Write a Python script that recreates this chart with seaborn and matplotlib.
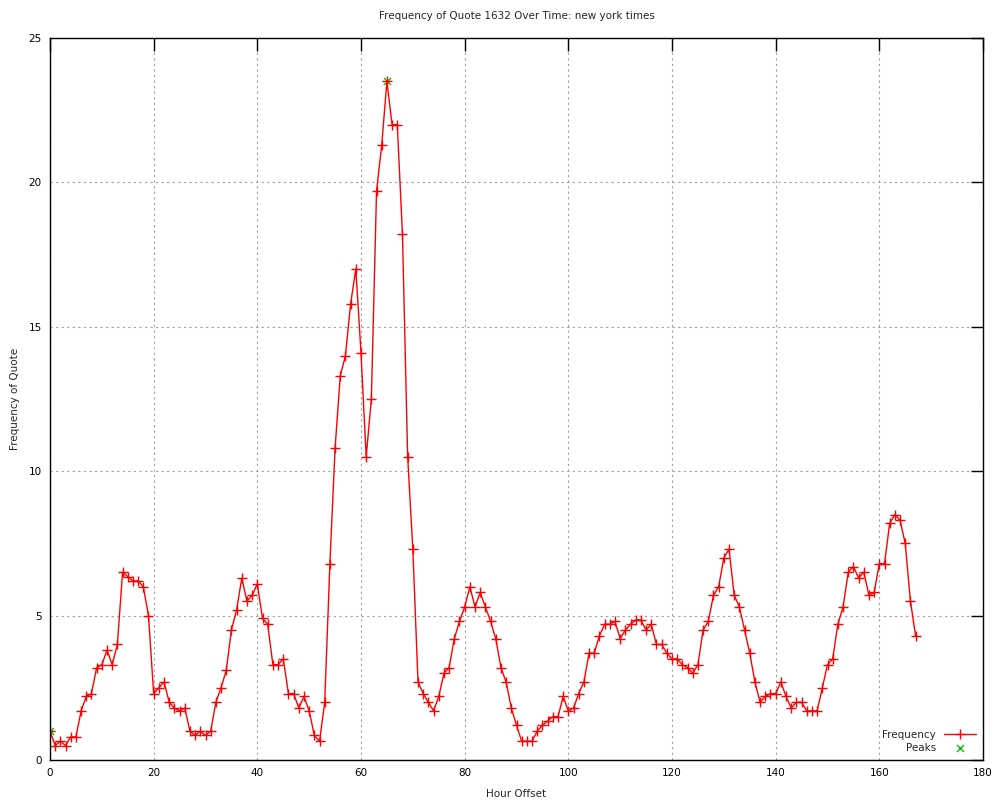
import numpy as np
import pandas as pd
import matplotlib
matplotlib.use('Agg')
import matplotlib.pyplot as plt
import seaborn as sns

# données
hours = list(range(168))
frequency = [
    1.0, 0.5, 0.65, 0.5, 0.8, 0.8, 1.7, 2.2, 2.3, 3.2,
    3.3, 3.8, 3.3, 4.0, 6.5, 6.35, 6.2, 6.2, 6.0, 5.0,
    2.3, 2.5, 2.7, 2.0, 1.8, 1.7, 1.8, 1.0, 0.85, 1.0,
    0.85, 1.0, 2.0, 2.5, 3.1, 4.5, 5.2, 6.3, 5.5, 5.7,
    6.1, 4.9, 4.7, 3.3, 3.3, 3.5, 2.3, 2.3, 1.8, 2.2,
    1.7, 0.85, 0.65, 2.0, 6.8, 10.8, 13.3, 14.0, 15.8, 17.0,
    14.1, 10.5, 12.5, 19.7, 21.3, 23.5, 22.0, 22.0, 18.2, 10.5,
    7.3, 2.7, 2.3, 2.0, 1.7, 2.2, 3.0, 3.2, 4.2, 4.8,
    5.3, 6.0, 5.3, 5.8, 5.3, 4.8, 4.2, 3.2, 2.7, 1.8,
    1.2, 0.65, 0.65, 0.65, 1.0, 1.2, 1.35, 1.5, 1.5, 2.2,
    1.7, 1.8, 2.3, 2.7, 3.7, 3.7, 4.3, 4.7, 4.7, 4.8,
    4.2, 4.5, 4.7, 4.85, 4.85, 4.5, 4.7, 4.0, 4.0, 3.7,
    3.5, 3.5, 3.3, 3.2, 3.0, 3.3, 4.5, 4.8, 5.7, 6.0,
    7.0, 7.3, 5.7, 5.3, 4.5, 3.7, 2.7, 2.0, 2.2, 2.3,
    2.3, 2.7, 2.2, 1.8, 2.0, 2.0, 1.7, 1.7, 1.7, 2.5,
    3.3, 3.5, 4.7, 5.3, 6.5, 6.7, 6.3, 6.5, 5.7, 5.8,
    6.8, 6.8, 8.2, 8.5, 8.3, 7.5, 5.5, 4.3,
]
peak_hours = [0, 65]
peak_values = [1.0, 23.5]

x_ticks = list(range(0, 181, 20))
y_ticks = list(range(0, 26, 5))

df = pd.DataFrame({'Hour Offset': hours, 'Frequency': frequency})
peaks = pd.DataFrame({'Hour Offset': peak_hours, 'Frequency': peak_values})

sns.set_style('white')
plt.rcParams['font.family'] = ['DejaVu Sans']
plt.rcParams['font.size'] = 7.5

fig = plt.figure(figsize=(10, 8), dpi=100)
ax = fig.add_axes([0.05, 0.05, 0.933, 0.9025])

sns.scatterplot(data=peaks, x='Hour Offset', y='Frequency', ax=ax,
                color='#00c000', marker='x', s=25, linewidth=1,
                label='Peaks', zorder=1)
sns.lineplot(data=df, x='Hour Offset', y='Frequency', ax=ax, color='red',
             linewidth=1, marker='+', markersize=7, markeredgewidth=1,
             markeredgecolor='red', label='Frequency', zorder=2)

ax.set_xlim(0, 180)
ax.set_ylim(0, 25)
ax.set_xticks(x_ticks)
ax.set_yticks(y_ticks)
ax.grid(True, color='#a0a0a0', linestyle=(0, (2, 3)), linewidth=0.8)
ax.set_axisbelow(True)
ax.tick_params(direction='in', length=9, width=1, top=True, right=True,
               colors='black', labelsize=7.5, pad=6)
for s in ax.spines.values():
    s.set_color('black')
    s.set_linewidth(1)

ax.set_title('Frequency of Quote 1632 Over Time: new york times',
             fontsize=7.5, pad=14)
ax.set_xlabel('Hour Offset', fontsize=7.5, labelpad=8)
ax.set_ylabel('Frequency of Quote', fontsize=7.5, labelpad=6)

handles, labels = ax.get_legend_handles_labels()
order = [labels.index('Frequency'), labels.index('Peaks')]
ax.legend([handles[i] for i in order], [labels[i] for i in order],
          loc='lower right', frameon=False, markerfirst=False,
          fontsize=7.5, handlelength=3, borderaxespad=0.3,
          labelspacing=0.3)

fig.savefig('out.png', dpi=100)
